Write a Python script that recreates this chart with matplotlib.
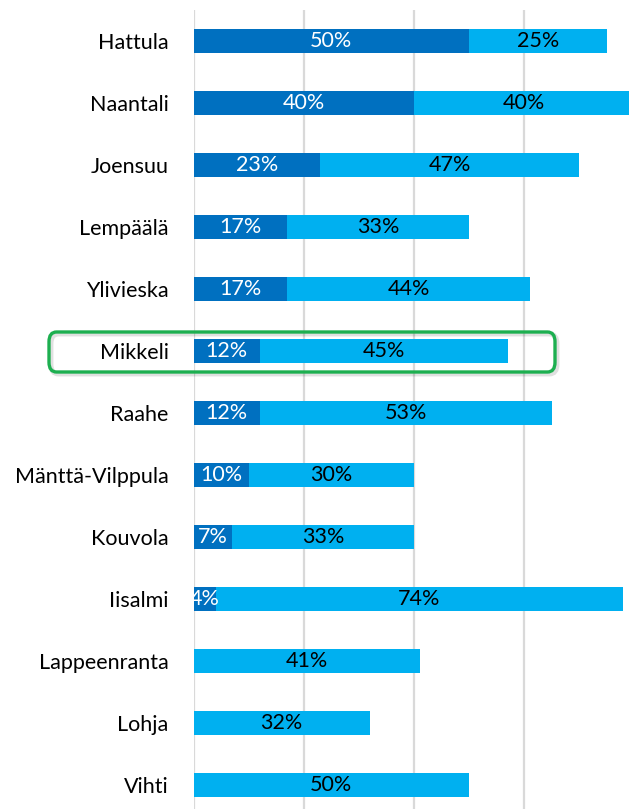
import numpy as np
import matplotlib.pyplot as plt
from matplotlib.patches import FancyBboxPatch

plt.rcParams['font.family'] = ['Lato', 'DejaVu Sans']

kunnat = ["Hattula", "Naantali", "Joensuu", "Lempäälä", "Ylivieska", "Mikkeli", "Raahe",
          "Mänttä-Vilppula", "Kouvola", "Iisalmi", "Lappeenranta", "Lohja", "Vihti"]
tumma = [50, 40, 23, 17, 17, 12, 12, 10, 7, 4, 0, 0, 0]
vaalea = [25, 40, 47, 33, 44, 45, 53, 30, 33, 74, 41, 32, 50]

W, H = 629, 809
fs = 15.5
fig = plt.figure(figsize=(W / 100, H / 100), dpi=100)
ax = fig.add_axes([193.5 / W, 0, (W - 193.5) / W, (H - 10) / H])

y = np.arange(len(kunnat))
ax.barh(y, tumma, height=0.39, color="#0070C0", zorder=2)
ax.barh(y, vaalea, left=tumma, height=0.39, color="#00B0F0", zorder=2)

for i in range(len(kunnat)):
    if tumma[i] > 0:
        ax.text(tumma[i] / 2, i, f"{tumma[i]}%", color="white", ha="center", va="center",
                fontsize=fs, zorder=3, clip_on=True)
    ax.text(tumma[i] + vaalea[i] / 2, i, f"{vaalea[i]}%", color="black", ha="center",
            va="center", fontsize=fs, zorder=3, clip_on=True)

ax.set_xlim(0, 79)
ax.set_ylim((H - 41) / 62, -0.5)
ax.set_xticks([0, 20, 40, 60])
ax.xaxis.grid(True, color="#D9D9D9", linewidth=1.6, zorder=0)
ax.set_axisbelow(True)
ax.tick_params(axis="x", length=0, labelbottom=False)
ax.tick_params(axis="y", length=0, labelsize=fs, pad=18)
ax.set_yticks(y)
ax.set_yticklabels(kunnat)
for s in ax.spines.values():
    s.set_visible(False)

# vihreä korostus Mikkelin ympärille (varjo + kehys)
x0, y0, w, h = 49 / W, 1 - 372 / H, (555 - 49) / W, (372 - 332) / H
varjo = FancyBboxPatch((x0 + 2 / W, y0 - 2 / H), w, h,
                       boxstyle="round,pad=0,rounding_size=0.012",
                       transform=fig.transFigure, fill=False, edgecolor="#000000",
                       alpha=0.12, linewidth=3.5, zorder=9)
kehys = FancyBboxPatch((x0, y0), w, h,
                       boxstyle="round,pad=0,rounding_size=0.012",
                       transform=fig.transFigure, fill=False, edgecolor="#1DAF50",
                       linewidth=2.4, zorder=10)
fig.add_artist(varjo)
fig.add_artist(kehys)

fig.savefig("out.png", dpi=100)
